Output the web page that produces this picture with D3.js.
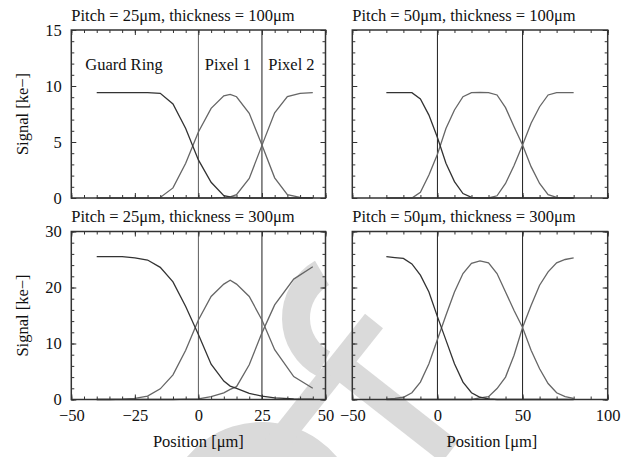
<!DOCTYPE html>
<html>
<head>
<meta charset="utf-8">
<script src="https://cdn.jsdelivr.net/npm/d3@7"></script>
<style>
body { margin: 0; background: #fff; }
svg { display: block; font-family: "Liberation Serif", "DejaVu Serif", serif; }
</style>
</head>
<body>
<svg id="chart" width="636" height="457"></svg>
<script>
// pitch 25um, 100um thick
var posA = [-40, -35, -30, -25, -20, -15, -10, -5, 0, 5, 10, 12.5, 15, 20, 25, 30, 35, 40, 45];
var guardA = [9.4, 9.4, 9.4, 9.4, 9.4, 9.35, 8.4, 6.2, 3.4, 1.4, 0.2, 0.1, 0.05, 0, 0, 0, 0, 0, 0];
var pix1A = [0, 0, 0, 0, 0, 0.05, 0.9, 3.1, 5.9, 8.0, 9.13, 9.25, 9.04, 7.56, 4.73, 1.8, 0.3, 0.05, 0];
var pix2A = [0, 0, 0, 0, 0, 0, 0, 0, 0, 0, 0.05, 0.1, 0.3, 1.75, 4.7, 7.6, 9.05, 9.35, 9.4];

// pitch 50um, 100um thick
var posB = [-30, -25, -20, -15, -10, -5, 0, 5, 10, 15, 20, 25, 30, 35, 40, 45, 50, 55, 60, 65, 70, 75, 80];
var guardB = [9.4, 9.4, 9.4, 9.4, 8.84, 7.4, 5.4, 3.1, 1.46, 0.4, 0.05, 0, 0, 0, 0, 0, 0, 0, 0, 0, 0, 0, 0];
var pix1B = [0, 0, 0, 0, 0.5, 2.05, 3.9, 6.2, 7.86, 9.05, 9.4, 9.42, 9.4, 9.2, 8.07, 6.37, 4.73, 2.8, 1.3, 0.3, 0.05, 0, 0];
var pix2B = [0, 0, 0, 0, 0, 0, 0, 0, 0, 0, 0, 0, 0, 0.2, 1.3, 2.9, 4.73, 6.67, 8.15, 9.2, 9.4, 9.4, 9.4];

// pitch 25um, 300um thick
var posC = [-40, -35, -30, -25, -20, -15, -10, -5, 0, 5, 10, 12.5, 15, 20, 25, 30, 37.5, 45];
var guardC = [25.5, 25.5, 25.5, 25.3, 24.9, 23.6, 21.0, 16.6, 11.6, 6.3, 3.3, 2.4, 2.0, 1.1, 0.6, 0.3, 0.1, 0.05];
var pix1C = [0, 0, 0.05, 0.2, 0.6, 1.9, 4.4, 8.8, 14.2, 18.4, 20.6, 21.3, 20.6, 18.4, 14.2, 8.9, 4.1, 2.0];
var pix2C = [0, 0, 0, 0, 0, 0, 0, 0.05, 0.1, 0.5, 1.2, 1.8, 2.3, 6.2, 11.9, 16.9, 21.5, 23.7];

// pitch 50um, 300um thick
var posD = [-30, -25, -20, -15, -10, -5, 0, 5, 10, 15, 20, 25, 30, 35, 40, 45, 50, 55, 60, 65, 70, 75, 80];
var guardD = [25.5, 25.35, 25.2, 24.2, 22.2, 19.2, 14.8, 10.6, 6.4, 3.1, 1.2, 0.4, 0.1, 0, 0, 0, 0, 0, 0, 0, 0, 0, 0];
var pix1D = [0.05, 0.2, 0.4, 1.2, 3.1, 6.4, 10.7, 15.05, 19.2, 22.5, 24.3, 24.75, 24.4, 22.5, 19.2, 15.9, 12.85, 8.8, 5.5, 2.85, 1.2, 0.5, 0.2];
var pix2D = [0, 0, 0, 0, 0, 0, 0, 0, 0, 0, 0, 0.3, 0.5, 1.95, 4.0, 7.9, 12.85, 16.8, 20.4, 22.8, 24.4, 25.0, 25.3];

var xTicks25 = [-50, -25, 0, 25, 50];
var xTicks50 = [-50, 0, 50, 100];
var yTicksThin = [0, 5, 10, 15];
var yTicksThick = [0, 10, 20, 30];
var regionLabels = ['Guard Ring', 'Pixel 1', 'Pixel 2'];

var svg = d3.select('#chart');
var deg = Math.PI / 180;

// grey watermark behind the plots
var wm = svg.append('g').attr('fill', '#dadada');
wm.append('path')
    .attr('transform', 'translate(348,318)')
    .attr('d', d3.arc().innerRadius(38).outerRadius(66).startAngle(208 * deg).endAngle(330 * deg)());
wm.append('path')
    .attr('transform', 'translate(262,520)')
    .attr('d', d3.arc().innerRadius(62).outerRadius(98).startAngle(-70 * deg).endAngle(70 * deg)());
wm.append('path').attr('d', 'M374,321L250,477').attr('stroke', '#dadada').attr('stroke-width', 23);
wm.append('path').attr('d', 'M339,365L450,452').attr('stroke', '#dadada').attr('stroke-width', 27);

var panels = [
    {title: 'Pitch = 25μm, thickness = 100μm', pos: posA, guard: guardA, pix1: pix1A, pix2: pix2A,
     pitch: 25, xDomain: [-50, 50], yDomain: [0, 15], xMajor: xTicks25, xStep: 5,
     yMajor: yTicksThin, yStep: 1, left: 71.3, right: 325.5, top: 30, bottom: 198,
     yLabels: true, xLabels: false, regions: true},
    {title: 'Pitch = 50μm, thickness = 100μm', pos: posB, guard: guardB, pix1: pix1B, pix2: pix2B,
     pitch: 50, xDomain: [-50, 100], yDomain: [0, 15], xMajor: xTicks50, xStep: 10,
     yMajor: yTicksThin, yStep: 1, left: 352.3, right: 607.7, top: 30, bottom: 198,
     yLabels: false, xLabels: false},
    {title: 'Pitch = 25μm, thickness = 300μm', pos: posC, guard: guardC, pix1: pix1C, pix2: pix2C,
     pitch: 25, xDomain: [-50, 50], yDomain: [0, 30], xMajor: xTicks25, xStep: 5,
     yMajor: yTicksThick, yStep: 2, left: 71.3, right: 325.5, top: 231.5, bottom: 399.5,
     yLabels: true, xLabels: true, xTitleAt: 0},
    {title: 'Pitch = 50μm, thickness = 300μm', pos: posD, guard: guardD, pix1: pix1D, pix2: pix2D,
     pitch: 50, xDomain: [-50, 100], yDomain: [0, 30], xMajor: xTicks50, xStep: 10,
     yMajor: yTicksThick, yStep: 2, left: 352.3, right: 607.7, top: 231.5, bottom: 399.5,
     yLabels: false, xLabels: true, xTitleAt: 32}
];

panels.forEach(drawPanel);

function drawPanel(p) {
    var g = svg.append('g');
    var x = d3.scaleLinear().domain(p.xDomain).range([p.left, p.right]);
    var y = d3.scaleLinear().domain(p.yDomain).range([p.bottom, p.top]);
    var line = d3.line()
        .x(function(d) { return x(d[0]); })
        .y(function(d) { return y(d[1]); });

    // pixel borders
    [0, p.pitch].forEach(function(b, i) {
        g.append('line')
            .attr('x1', x(b)).attr('x2', x(b))
            .attr('y1', p.top).attr('y2', p.bottom)
            .attr('stroke', (i == 0 && p.pitch == 25) ? '#5c5c5c' : '#1e1e1e')
            .attr('stroke-width', 1);
    });

    [[p.pix1, '#666'], [p.pix2, '#666'], [p.guard, '#333']].forEach(function(s) {
        g.append('path')
            .datum(p.pos.map(function(v, i) { return [v, s[0][i]]; }))
            .attr('fill', 'none')
            .attr('stroke', s[1])
            .attr('stroke-width', 1.3)
            .attr('d', line);
    });

    g.append('rect')
        .attr('x', p.left).attr('y', p.top)
        .attr('width', p.right - p.left).attr('height', p.bottom - p.top)
        .attr('fill', 'none').attr('stroke', '#333').attr('stroke-width', 1.5);

    var xMinor = d3.range(p.xDomain[0], p.xDomain[1] + 0.01, p.xStep);
    var yMinor = d3.range(p.yDomain[0], p.yDomain[1] + 0.01, p.yStep);

    function ticks(axis, at, values, size, labels) {
        var a = axis.tickValues(values).tickSize(-size)
            .tickPadding(labels ? 9.5 : 0)
            .tickFormat(labels ? d3.format('d') : '');
        var t = g.append('g').attr('transform', at).call(a);
        t.select('.domain').remove();
        t.selectAll('line').attr('stroke', '#333');
        t.selectAll('text')
            .attr('fill', '#111')
            .style('font-family', '"Liberation Serif", serif')
            .style('font-size', '16.5px');
    }
    var bt = 'translate(0,' + p.bottom + ')', tp = 'translate(0,' + p.top + ')';
    var lf = 'translate(' + p.left + ',0)', rt = 'translate(' + p.right + ',0)';
    ticks(d3.axisBottom(x), bt, xMinor, 3, false);
    ticks(d3.axisBottom(x), bt, p.xMajor, 5, p.xLabels);
    ticks(d3.axisTop(x), tp, xMinor, 3, false);
    ticks(d3.axisTop(x), tp, p.xMajor, 5, false);
    ticks(d3.axisLeft(y), lf, yMinor, 3, false);
    ticks(d3.axisLeft(y), lf, p.yMajor, 5, p.yLabels);
    ticks(d3.axisRight(y), rt, yMinor, 3, false);
    ticks(d3.axisRight(y), rt, p.yMajor, 5, false);

    g.append('text')
        .attr('x', p.left).attr('y', p.top - 9.5)
        .attr('font-size', 16.5).attr('fill', '#111')
        .text(p.title);

    if (p.yLabels) {
        g.append('text')
            .attr('transform', 'translate(28,' + (p.top + p.bottom) / 2 + ') rotate(-90)')
            .attr('text-anchor', 'middle')
            .attr('font-size', 16.5).attr('fill', '#111')
            .text('Signal [ke\u2212]');
    }
    if (p.xLabels) {
        g.append('text')
            .attr('x', x(p.xTitleAt)).attr('y', 447)
            .attr('text-anchor', 'middle')
            .attr('font-size', 16.5).attr('fill', '#111')
            .text('Position [μm]');
    }
    if (p.regions) {
        var at = [-44.5, 2.5, 27.5];
        regionLabels.forEach(function(r, i) {
            g.append('text')
                .attr('x', x(at[i])).attr('y', y(11.4))
                .attr('font-size', 16.5).attr('fill', '#111')
                .text(r);
        });
    }
}
</script>
</body>
</html>
